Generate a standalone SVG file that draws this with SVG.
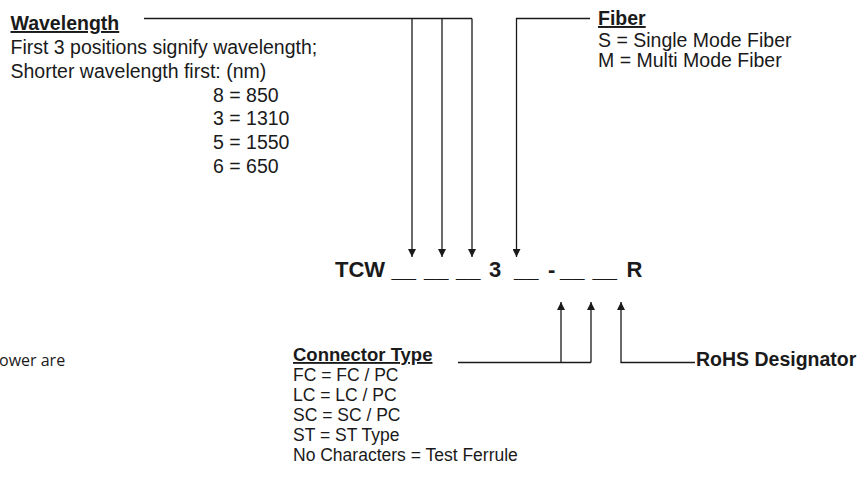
<svg xmlns="http://www.w3.org/2000/svg" width="860" height="479" viewBox="0 0 860 479">
<defs>
<style>
.t{font-family:"Liberation Sans",Arial,sans-serif;font-size:19.5px;fill:#1a1a1a}
.b{font-family:"Liberation Sans",Arial,sans-serif;font-size:19.5px;font-weight:bold;fill:#1a1a1a}
.u{text-decoration:underline}
.code{font-family:"Liberation Sans",Arial,sans-serif;font-size:22px;font-weight:bold;fill:#1a1a1a}
.ln{stroke:#1a1a1a;stroke-width:1.3;fill:none}
.side{font-family:"Open Sans","Noto Sans",sans-serif;font-size:16px;fill:#1a1a1a}
</style>
<marker id="ah" viewBox="0 0 10 10" refX="10" refY="5" markerWidth="8" markerHeight="8" markerUnits="userSpaceOnUse" orient="auto">
<path d="M0,0 L10,5 L0,10 z" fill="#1a1a1a"/>
</marker>
</defs>
<rect width="860" height="479" fill="#fff"/>
<g id="wavelength">
<text class="b u" x="10.5" y="30">Wavelength</text>
<text class="t" x="10.5" y="54">First 3 positions signify wavelength;</text>
<text class="t" x="10.5" y="77.5">Shorter wavelength first: (nm)</text>
<text class="t" x="213" y="101.5">8 = 850</text>
<text class="t" x="213" y="125">3 = 1310</text>
<text class="t" x="213" y="148.5">5 = 1550</text>
<text class="t" x="213" y="172.5">6 = 650</text>
</g>
<g id="fiber">
<text class="b u" x="598" y="25">Fiber</text>
<text class="t" x="598" y="46.5">S = Single Mode Fiber</text>
<text class="t" x="598" y="67">M = Multi Mode Fiber</text>
</g>
<g id="code">
<text class="code" y="277"><tspan x="335">TCW</tspan><tspan x="391.5">__</tspan><tspan x="424">__</tspan><tspan x="456">__</tspan><tspan x="489">3</tspan><tspan x="514">__</tspan><tspan x="548">-</tspan><tspan x="560">__</tspan><tspan x="592.5">__</tspan><tspan x="626.5">R</tspan></text>
</g>
<g id="connector">
<text class="b u" x="293" y="361" style="font-size:18.5px">Connector Type</text>
<text class="t" x="293" y="381" style="font-size:17.5px">FC = FC / PC</text>
<text class="t" x="293" y="401" style="font-size:17.5px">LC = LC / PC</text>
<text class="t" x="293" y="421" style="font-size:17.5px">SC = SC / PC</text>
<text class="t" x="293" y="441" style="font-size:17.5px">ST = ST Type</text>
<text class="t" x="293" y="461" style="font-size:17.5px">No Characters = Test Ferrule</text>
</g>
<g id="rohs">
<text class="b" x="696" y="366">RoHS Designator</text>
</g>
<g id="side">
<text class="side" x="-1" y="366">ower are</text>
</g>
<g id="connectors">
<path class="ln" d="M144,18.5 H472"/>
<path class="ln" d="M412,18.5 V257" marker-end="url(#ah)"/>
<path class="ln" d="M442,18.5 V257" marker-end="url(#ah)"/>
<path class="ln" d="M472,18.5 V257" marker-end="url(#ah)"/>
<path class="ln" d="M590,18.5 H516.5 V257" marker-end="url(#ah)"/>
<path class="ln" d="M458,362.5 H591"/>
<path class="ln" d="M561,362.5 V302" marker-end="url(#ah)"/>
<path class="ln" d="M591,362.5 V302" marker-end="url(#ah)"/>
<path class="ln" d="M695,362.5 H621 V302" marker-end="url(#ah)"/>
</g>
</svg>
